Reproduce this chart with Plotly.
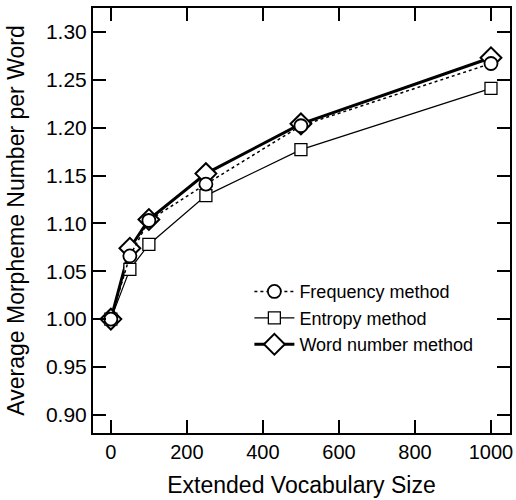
import plotly.graph_objects as go

vocab_size = [0, 50, 100, 250, 500, 1000]
freq_vals = [1.000, 1.066, 1.103, 1.141, 1.202, 1.267]
entropy_vals = [1.000, 1.052, 1.078, 1.129, 1.177, 1.241]
wordnum_vals = [1.000, 1.074, 1.104, 1.152, 1.204, 1.273]

x_ticks = [0, 200, 400, 600, 800, 1000]
y_ticks = [0.90, 0.95, 1.00, 1.05, 1.10, 1.15, 1.20, 1.25, 1.30]

FONT = "Liberation Sans, Arial, Helvetica, sans-serif"

fig = go.Figure()
fig.add_trace(go.Scatter(
    x=vocab_size, y=wordnum_vals, mode="lines+markers", name="Word number method",
    line=dict(color="black", width=3),
    marker=dict(symbol="diamond", size=16, color="white", line=dict(color="black", width=2)),
    legendrank=3,
))
fig.add_trace(go.Scatter(
    x=vocab_size, y=entropy_vals, mode="lines+markers", name="Entropy method",
    line=dict(color="black", width=1.2),
    marker=dict(symbol="square", size=12, color="white", line=dict(color="black", width=1.3)),
    legendrank=2,
))
fig.add_trace(go.Scatter(
    x=vocab_size, y=freq_vals, mode="lines+markers", name="Frequency method",
    line=dict(color="black", width=1.5, dash="dot"),
    marker=dict(symbol="circle", size=13, color="white", line=dict(color="black", width=1.8)),
    legendrank=1,
))

fig.update_layout(
    width=516, height=500,
    margin=dict(l=93, r=6, t=8, b=67, pad=0),
    paper_bgcolor="white", plot_bgcolor="white",
    font=dict(family=FONT, size=20, color="black"),
    showlegend=True,
    legend=dict(x=0.375, y=0.27, xanchor="left", yanchor="middle",
                bgcolor="rgba(0,0,0,0)", font=dict(size=18, color="black"),
                tracegroupgap=0, itemwidth=40),
    xaxis=dict(
        range=[-47, 1050], tickvals=x_ticks, ticks="inside", ticklen=13, tickwidth=1.8,
        tickcolor="black", showline=True, linecolor="black", linewidth=2, mirror="ticks",
        showgrid=False, zeroline=False, automargin=False,
        title=dict(text="Extended Vocabulary Size", font=dict(size=23)),
        tickfont=dict(size=20),
    ),
    yaxis=dict(
        range=[0.881, 1.325], tickvals=y_ticks, tickformat=".2f", ticks="inside", ticklen=13,
        tickwidth=1.8, tickcolor="black", showline=True, linecolor="black", linewidth=2,
        mirror="ticks", showgrid=False, zeroline=False, automargin=False,
        title=dict(text="Average Morpheme Number per Word", font=dict(size=23)),
        tickfont=dict(size=21),
    ),
)

fig.write_html(
    "out.html",
    config={"displayModeBar": False},
    post_script="document.body.style.margin='0';document.body.style.overflow='hidden';",
)
